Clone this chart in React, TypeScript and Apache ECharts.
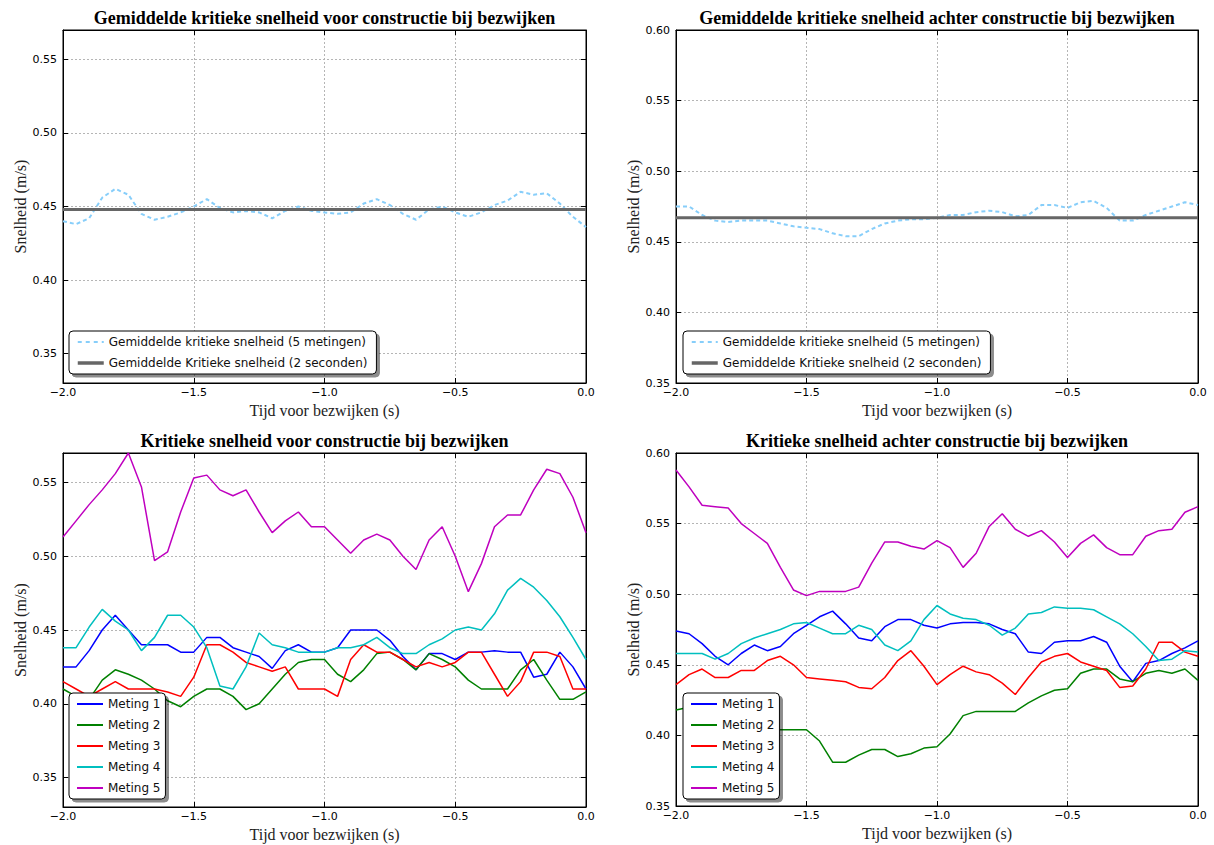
import React, { useEffect, useRef } from "react";
import * as echarts from "echarts";

// time axis (s before failure)
const T = [
  -2.0, -1.95, -1.9, -1.85, -1.8, -1.75, -1.7, -1.65, -1.6, -1.55,
  -1.5, -1.45, -1.4, -1.35, -1.3, -1.25, -1.2, -1.15, -1.1, -1.05,
  -1.0, -0.95, -0.9, -0.85, -0.8, -0.75, -0.7, -0.65, -0.6, -0.55,
  -0.5, -0.45, -0.4, -0.35, -0.3, -0.25, -0.2, -0.15, -0.1, -0.05,
  0.0,
];

const X_TICKS = [-2.0, -1.5, -1.0, -0.5, 0.0];
const Y_TICKS_LEFT = [0.35, 0.4, 0.45, 0.5, 0.55];

const TITLES = [
  "Gemiddelde kritieke snelheid voor constructie bij bezwijken",
  "Gemiddelde kritieke snelheid achter constructie bij bezwijken",
  "Kritieke snelheid voor constructie bij bezwijken",
  "Kritieke snelheid achter constructie bij bezwijken",
];
const X_NAME = "Tijd voor bezwijken (s)";
const Y_NAME = "Snelheid (m/s)";
const NAME5 = "Gemiddelde kritieke snelheid (5 metingen)";
const NAME2 = "Gemiddelde Kritieke snelheid (2 seconden)";
const METING = ["Meting 1", "Meting 2", "Meting 3", "Meting 4", "Meting 5"];

// top-left: average of 5 runs, front of structure
const TL_AVG5 = [
  0.44, 0.438, 0.442, 0.456, 0.462, 0.458, 0.445, 0.441, 0.443, 0.446,
  0.45, 0.455, 0.449, 0.446, 0.447, 0.446, 0.442, 0.447, 0.45, 0.447,
  0.446, 0.445, 0.446, 0.452, 0.455, 0.451, 0.445, 0.441, 0.448, 0.45,
  0.446, 0.443, 0.446, 0.451, 0.454, 0.46, 0.458, 0.459, 0.452, 0.443,
  0.436,
];
const TL_AVG2 = 0.448;

// top-right: average of 5 runs, behind structure
const TR_AVG5 = [
  0.475, 0.475, 0.469, 0.465, 0.464, 0.465, 0.465, 0.465, 0.463, 0.461,
  0.46, 0.459, 0.456, 0.454, 0.454, 0.459, 0.463, 0.465, 0.466, 0.466,
  0.467, 0.469, 0.469, 0.471, 0.472, 0.471, 0.468, 0.469, 0.476, 0.476,
  0.474, 0.478, 0.479, 0.474, 0.465, 0.465, 0.469, 0.472, 0.475, 0.478,
  0.476,
];
const TR_AVG2 = 0.467;

// bottom-left: individual runs, front
const BL_M1 = [
  0.425, 0.425, 0.436, 0.45, 0.46, 0.45, 0.44, 0.44, 0.44, 0.435,
  0.435, 0.445, 0.445, 0.438, 0.435, 0.432, 0.424, 0.436, 0.44, 0.435,
  0.435, 0.438, 0.45, 0.45, 0.45, 0.443, 0.432, 0.423, 0.434, 0.434,
  0.43, 0.435, 0.435, 0.436, 0.435, 0.435, 0.418, 0.42, 0.435, 0.425,
  0.41,
];
const BL_M2 = [
  0.41, 0.405, 0.403, 0.416, 0.423, 0.42, 0.416, 0.41, 0.402, 0.398,
  0.405, 0.41, 0.41, 0.405, 0.396, 0.4, 0.41, 0.42, 0.428, 0.43,
  0.43, 0.42, 0.415, 0.423, 0.434, 0.435, 0.43, 0.423, 0.434, 0.43,
  0.425, 0.416, 0.41, 0.41, 0.41, 0.423, 0.43, 0.416, 0.403, 0.403,
  0.408,
];
const BL_M3 = [
  0.415, 0.41, 0.405, 0.41, 0.415, 0.41, 0.41, 0.41, 0.408, 0.405,
  0.418, 0.44, 0.44, 0.435, 0.428, 0.425, 0.422, 0.425, 0.41, 0.41,
  0.41, 0.405, 0.43, 0.44, 0.435, 0.435, 0.43, 0.425, 0.428, 0.425,
  0.428, 0.435, 0.435, 0.42, 0.405, 0.415, 0.435, 0.435, 0.432, 0.41,
  0.41,
];
const BL_M4 = [
  0.438, 0.438, 0.452, 0.464, 0.456, 0.45, 0.436, 0.445, 0.46, 0.46,
  0.452, 0.438, 0.412, 0.41, 0.425, 0.448, 0.44, 0.438, 0.435, 0.435,
  0.435, 0.438, 0.438, 0.44, 0.445, 0.438, 0.434, 0.434, 0.44, 0.444,
  0.45, 0.452, 0.45, 0.461, 0.477, 0.485, 0.479, 0.47, 0.459, 0.445,
  0.43,
];
const BL_M5 = [
  0.513, 0.524, 0.535, 0.545, 0.556, 0.57, 0.547, 0.497, 0.503, 0.53,
  0.553, 0.555, 0.545, 0.541, 0.545, 0.53, 0.516, 0.524, 0.53, 0.52,
  0.52, 0.511, 0.502, 0.511, 0.515, 0.511, 0.5, 0.491, 0.511, 0.52,
  0.5, 0.476, 0.495, 0.52, 0.528, 0.528, 0.545, 0.559, 0.556, 0.54,
  0.516,
];

// bottom-right: individual runs, behind
const BR_M1 = [
  0.474, 0.472, 0.465, 0.456, 0.45, 0.458, 0.464, 0.46, 0.463, 0.472,
  0.478, 0.484, 0.488, 0.479, 0.469, 0.467, 0.477, 0.482, 0.482, 0.478,
  0.476, 0.479, 0.48, 0.48, 0.479, 0.475, 0.472, 0.459, 0.458, 0.466,
  0.467, 0.467, 0.47, 0.466, 0.449, 0.438, 0.451, 0.453, 0.458, 0.462,
  0.467,
];
const BR_M2 = [
  0.418, 0.42, 0.415, 0.41, 0.408, 0.406, 0.405, 0.405, 0.404, 0.404,
  0.404, 0.396, 0.381, 0.381, 0.386, 0.39, 0.39, 0.385, 0.387, 0.391,
  0.392, 0.401, 0.414, 0.417, 0.417, 0.417, 0.417, 0.423, 0.428, 0.432,
  0.433, 0.444, 0.447, 0.447, 0.44, 0.438, 0.444, 0.446, 0.444, 0.447,
  0.439,
];
const BR_M3 = [
  0.436, 0.443, 0.447, 0.441, 0.441, 0.446, 0.446, 0.453, 0.456, 0.45,
  0.441, 0.44, 0.439, 0.438, 0.434, 0.433, 0.441, 0.453, 0.46, 0.449,
  0.436, 0.443, 0.449, 0.445, 0.443, 0.437, 0.429, 0.441, 0.452, 0.456,
  0.458, 0.452, 0.449, 0.446, 0.434, 0.435, 0.447, 0.466, 0.466, 0.459,
  0.456,
];
const BR_M4 = [
  0.458, 0.458, 0.458, 0.454, 0.458, 0.465, 0.469, 0.472, 0.475, 0.479,
  0.48, 0.476, 0.472, 0.472, 0.478, 0.475, 0.464, 0.46, 0.467, 0.482,
  0.492, 0.486, 0.483, 0.482, 0.478, 0.471, 0.476, 0.486, 0.487, 0.491,
  0.49, 0.49, 0.489, 0.484, 0.479, 0.472, 0.463, 0.453, 0.454, 0.46,
  0.459,
];
const BR_M5 = [
  0.588, 0.576, 0.563, 0.562, 0.561, 0.55, 0.543, 0.536, 0.519, 0.503,
  0.499, 0.502, 0.502, 0.502, 0.505, 0.522, 0.537, 0.537, 0.534, 0.532,
  0.538, 0.533, 0.519, 0.529, 0.548, 0.557, 0.546, 0.541, 0.545, 0.537,
  0.526, 0.536, 0.542, 0.533, 0.528, 0.528, 0.541, 0.545, 0.546, 0.558,
  0.562,
];

const COLORS = ["#0000ff", "#008000", "#ff0000", "#00bfbf", "#bf00bf"];

const GRIDS = [
  { left: 63, top: 30, width: 523, height: 353 },
  { left: 676, top: 30, width: 522, height: 353 },
  { left: 63, top: 453, width: 523, height: 354 },
  { left: 676, top: 453, width: 522, height: 353 },
];

const pairs = (ys: number[]) => T.map((t, i) => [t, ys[i]]);
const flat = (v: number) => [
  [T[0], v],
  [T[T.length - 1], v],
];

const fmtX = (v: number) =>
  (v < -1e-9 ? "\u2212" : "") + Math.abs(v).toFixed(1);
const fmtY = (v: number) => v.toFixed(2);

const TICK_FONT = { fontFamily: "DejaVu Sans", fontSize: 11, color: "#000" };
const GRID_LINE = { show: true, lineStyle: { color: "#b5b5b5", type: [2, 2], width: 1 } };
const NAME_FONT = { fontFamily: "Liberation Serif", fontSize: 16, color: "#222" };

function xAxes(gi: number) {
  const common = {
    type: "value",
    gridIndex: gi,
    min: -2,
    max: 0,
    interval: 0.5,
    axisLine: { show: true, onZero: false, lineStyle: { color: "#000", width: 1 } },
    axisTick: { show: true, inside: true, length: 5, lineStyle: { color: "#000" } },
  };
  return [
    {
      ...common,
      position: "bottom",
      axisLabel: { ...TICK_FONT, margin: 4, formatter: fmtX, customValues: X_TICKS },
      splitLine: GRID_LINE,
      name: X_NAME,
      nameLocation: "middle",
      nameGap: 19,
      nameTextStyle: NAME_FONT,
    },
    { ...common, position: "top", axisLabel: { show: false }, splitLine: { show: false } },
  ];
}

function yAxes(gi: number, left: boolean) {
  const common: any = {
    type: "value",
    gridIndex: gi,
    axisLine: { show: true, onZero: false, lineStyle: { color: "#000", width: 1 } },
  };
  if (left) {
    common.min = 0.33;
    common.max = 0.57;
  } else {
    common.min = 0.35;
    common.max = 0.6;
    common.interval = 0.05;
  }
  const tick: any = { show: true, inside: true, length: 5, lineStyle: { color: "#000" } };
  const lab: any = { ...TICK_FONT, margin: 6, formatter: fmtY };
  if (left) {
    tick.customValues = Y_TICKS_LEFT;
    lab.customValues = Y_TICKS_LEFT;
  }
  return [
    {
      ...common,
      position: "left",
      axisTick: tick,
      axisLabel: lab,
      splitLine: GRID_LINE,
      name: Y_NAME,
      nameLocation: "middle",
      nameGap: 35,
      nameTextStyle: NAME_FONT,
    },
    {
      ...common,
      position: "right",
      axisTick: { ...tick },
      axisLabel: { show: false },
      splitLine: { show: false },
    },
  ];
}

const LEGEND_BASE = {
  orient: "vertical",
  backgroundColor: "#fff",
  borderColor: "#000",
  borderWidth: 1,
  borderRadius: 4,
  shadowColor: "rgba(0,0,0,0.45)",
  shadowOffsetX: 3,
  shadowOffsetY: 3,
  shadowBlur: 0,
  itemWidth: 26,
  itemHeight: 14,
  selectedMode: false,
  itemStyle: { opacity: 0 },
  textStyle: { fontFamily: "DejaVu Sans", fontSize: 12, color: "#111" },
};

const AVG_LEGEND_DATA = [
  { name: NAME5, lineStyle: { color: "#87cefa", width: 2, type: [4, 4] } },
  { name: NAME2, lineStyle: { color: "#666666", width: 3.5 } },
];

export default function App() {
  const ref = useRef<HTMLDivElement>(null);

  useEffect(() => {
    document.body.style.margin = "0";
    if (!ref.current) return;
    const chart = echarts.init(ref.current, undefined, { renderer: "svg" });

    const avgSeries = (gi: number, avg5: number[], avg2: number) => [
      {
        type: "line",
        name: NAME5,
        xAxisIndex: gi * 2,
        yAxisIndex: gi * 2,
        data: pairs(avg5),
        symbol: "none",
        lineStyle: { color: "#87cefa", width: 2, type: [4, 3] },
        itemStyle: { color: "#87cefa" },
      },
      {
        type: "line",
        name: NAME2,
        xAxisIndex: gi * 2,
        yAxisIndex: gi * 2,
        data: flat(avg2),
        symbol: "none",
        lineStyle: { color: "#666666", width: 3 },
        itemStyle: { color: "#666666" },
      },
    ];

    const runSeries = (gi: number, runs: number[][]) =>
      runs.map((ys, k) => ({
        type: "line",
        name: METING[k],
        xAxisIndex: gi * 2,
        yAxisIndex: gi * 2,
        data: pairs(ys),
        symbol: "none",
        lineStyle: { color: COLORS[k], width: 1.5 },
        itemStyle: { color: COLORS[k] },
      }));

    const option: any = {
      animation: false,
      backgroundColor: "#fff",
      grid: GRIDS.map((g) => ({
        ...g,
        show: true,
        borderColor: "#000",
        borderWidth: 1,
        backgroundColor: "transparent",
      })),
      xAxis: [...xAxes(0), ...xAxes(1), ...xAxes(2), ...xAxes(3)],
      yAxis: [...yAxes(0, true), ...yAxes(1, false), ...yAxes(2, true), ...yAxes(3, false)],
      legend: [
        { ...LEGEND_BASE, data: AVG_LEGEND_DATA, left: 69, top: 331, itemGap: 9, padding: [5, 9, 5, 7] },
        { ...LEGEND_BASE, data: AVG_LEGEND_DATA, left: 683, top: 331, itemGap: 9, padding: [5, 9, 5, 7] },
        { ...LEGEND_BASE, data: METING, left: 69, top: 693, itemGap: 9, padding: [5, 5, 5, 7] },
        { ...LEGEND_BASE, data: METING, left: 683, top: 693, itemGap: 9, padding: [5, 5, 5, 7] },
      ],
      graphic: GRIDS.map((g, i) => ({
        type: "text",
        x: g.left + g.width / 2,
        y: i < 2 ? 18 : 441,
        silent: true,
        style: {
          text: TITLES[i],
          textAlign: "center",
          textVerticalAlign: "middle",
          fontFamily: "Liberation Serif",
          fontWeight: "bold",
          fontSize: 18,
          fill: "#000",
        },
      })),
      series: [
        ...avgSeries(0, TL_AVG5, TL_AVG2),
        ...avgSeries(1, TR_AVG5, TR_AVG2),
        ...runSeries(2, [BL_M1, BL_M2, BL_M3, BL_M4, BL_M5]),
        ...runSeries(3, [BR_M1, BR_M2, BR_M3, BR_M4, BR_M5]),
      ],
    };

    chart.setOption(option);
    return () => chart.dispose();
  }, []);

  return <div ref={ref} style={{ width: 1214, height: 845 }} />;
}
